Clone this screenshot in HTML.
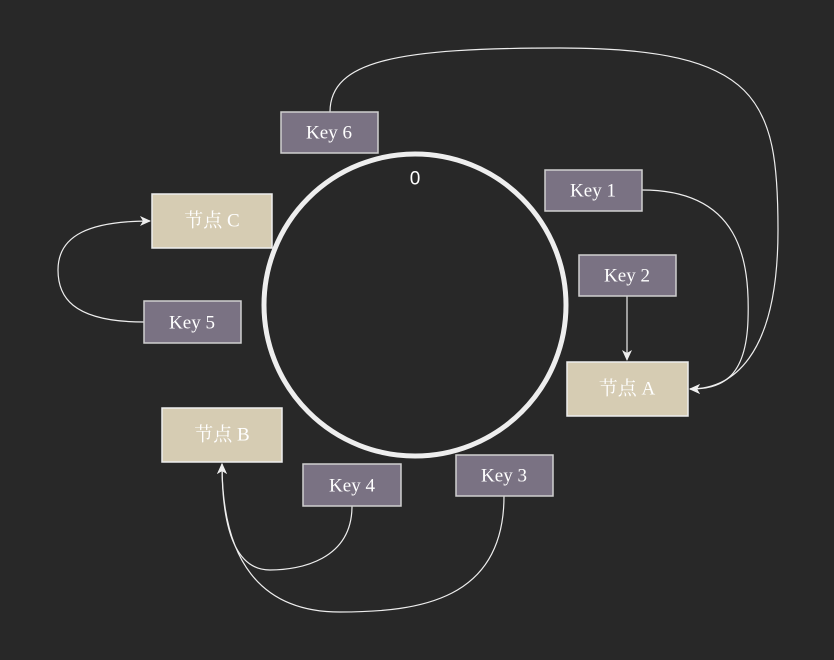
<!DOCTYPE html>
<html><head><meta charset="utf-8"><style>
html,body{margin:0;padding:0;background:#282828;}
svg{display:block}
text{font-family:"Liberation Serif","Noto Serif CJK SC",serif;font-size:19px;fill:#fff;text-anchor:middle;dominant-baseline:central}
</style></head><body>
<svg width="834" height="660" viewBox="0 0 834 660" xmlns="http://www.w3.org/2000/svg">
<defs><marker id="a" markerWidth="12" markerHeight="12" refX="10" refY="6" orient="auto" markerUnits="userSpaceOnUse"><path d="M0,1 L11,6 L0,11 L3,6 Z" fill="#eee"/></marker></defs>
<rect width="834" height="660" fill="#282828"/>
<circle cx="415" cy="305" r="151" fill="none" stroke="#eeeeee" stroke-width="5"/>
<text x="415" y="179" style="font-family:'Liberation Sans',sans-serif;font-size:19px">0</text>
<g fill="none" stroke="#eee" stroke-width="1.2">
<path d="M330,112 C330,60 400,48 560,48 C760,48 778,100 778,230 C778,360 730,389 690,389" marker-end="url(#a)"/>
<path d="M642,190 C740,190 750,260 748,320 C746,380 720,389 690,389" marker-end="url(#a)"/>
<path d="M627,296 L627,360" marker-end="url(#a)"/>
<path d="M144,322 C70,322 58,295 58,270 C58,235 90,221 150,221" marker-end="url(#a)"/>
<path d="M352,506 C352,560 300,570 270,570 C232,570 222,520 222,464" marker-end="url(#a)"/>
<path d="M504,496 C504,600 420,612 340,612 C260,612 222,560 222,464" marker-end="url(#a)"/>
</g>
<g stroke="#cfcfcf" stroke-width="1.5" fill="#7a7283">
<rect x="281" y="112" width="97" height="41"/>
<rect x="545" y="170" width="97" height="41"/>
<rect x="579" y="255" width="97" height="41"/>
<rect x="144" y="301" width="97" height="42"/>
<rect x="303" y="464" width="98" height="42"/>
<rect x="456" y="455" width="97" height="41"/>
</g>
<g stroke="#eee" stroke-width="1.5" fill="#d6ccb3">
<rect x="567" y="362" width="121" height="54"/>
<rect x="152" y="194" width="120" height="54"/>
<rect x="162" y="408" width="120" height="54"/>
</g>
<text x="329" y="133">Key 6</text>
<text x="593" y="191">Key 1</text>
<text x="627" y="276">Key 2</text>
<text x="192" y="323">Key 5</text>
<text x="352" y="486">Key 4</text>
<text x="504" y="476">Key 3</text>
<text x="627" y="389">节点 A</text>
<text x="212" y="221">节点 C</text>
<text x="222" y="435">节点 B</text>
</svg>
</body></html>
